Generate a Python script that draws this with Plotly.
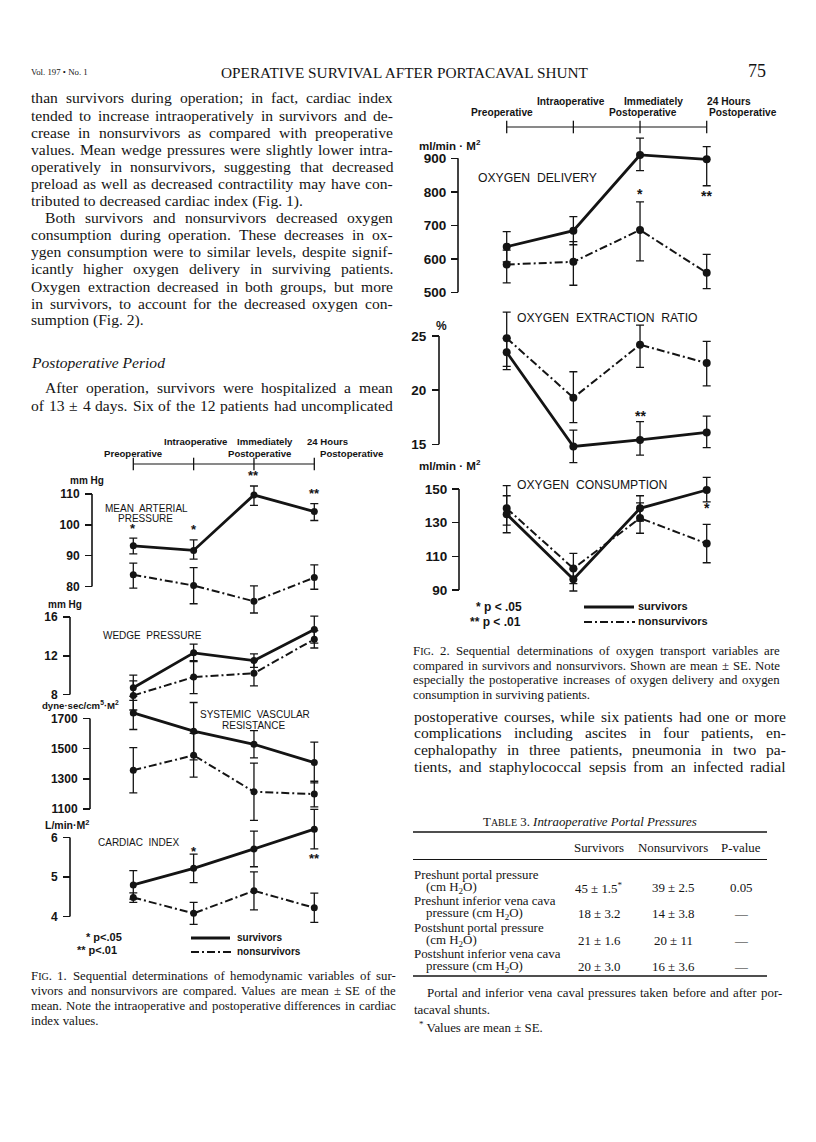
import re
import plotly.graph_objects as go

W, H = 816, 1142
SANS = "Liberation Sans, Arial, sans-serif"
SERIF = "Liberation Serif, Times New Roman, serif"
INK = "#141414"

# ------------------------------------------------------------------ data
stages = ["Preoperative", "Intraoperative", "Immediately Postoperative", "24 Hours Postoperative"]
stage_idx = list(range(len(stages)))

# Fig. 1 - hemodynamic variables (mean, +SE, -SE)
map_surv = [93.2, 91.7, 109.7, 104.3]
map_surv_up = [2.5, 3.4, 2.9, 2.6]
map_surv_dn = [2.6, 2.8, 3.4, 2.9]
map_non = [83.8, 80.3, 75.2, 82.9]
map_non_up = [3.8, 5.8, 5.0, 4.1]
map_non_dn = [4.3, 5.9, 3.8, 3.8]
map_ticks = [80, 90, 100, 110]

wedge_surv = [8.7, 12.3, 11.5, 14.7]
wedge_surv_up = [1.3, 0.9, 0.7, 1.4]
wedge_surv_dn = [1.3, 0.9, 0.7, 1.4]
wedge_non = [7.9, 9.8, 10.2, 13.7]
wedge_non_up = [1.5, 1.7, 1.3, 0.9]
wedge_non_dn = [1.5, 1.7, 1.3, 0.9]
wedge_ticks = [8, 12, 16]

svr_surv = [1737, 1616, 1529, 1408]
svr_surv_up = [110, 190, 90, 135]
svr_surv_dn = [110, 190, 90, 135]
svr_non = [1357, 1456, 1214, 1199]
svr_non_up = [150, 145, 190, 85]
svr_non_dn = [150, 145, 190, 85]
svr_ticks = [1100, 1300, 1500, 1700]

ci_surv = [4.80, 5.22, 5.71, 6.21]
ci_surv_up = [0.36, 0.36, 0.45, 0.50]
ci_surv_dn = [0.36, 0.36, 0.45, 0.50]
ci_non = [4.48, 4.08, 4.65, 4.22]
ci_non_up = [0.12, 0.28, 0.48, 0.37]
ci_non_dn = [0.12, 0.28, 0.48, 0.37]
ci_ticks = [4, 5, 6]

# Fig. 2 - oxygen transport variables
do2_surv = [636, 684, 910, 897]
do2_surv_up = [45, 42, 50, 38]
do2_surv_dn = [45, 42, 47, 79]
do2_non = [583, 591, 686, 558]
do2_non_up = [43, 60, 84, 55]
do2_non_dn = [55, 70, 92, 47]
do2_ticks = [500, 600, 700, 800, 900]

oer_surv = [23.5, 14.8, 15.4, 16.1]
oer_surv_up = [1.3, 1.5, 1.7, 1.5]
oer_surv_dn = [1.6, 1.5, 1.4, 1.4]
oer_non = [24.8, 19.3, 24.2, 22.5]
oer_non_up = [2.4, 2.4, 1.8, 2.0]
oer_non_dn = [2.6, 2.3, 2.1, 2.1]
oer_ticks = [15, 20, 25]

vo2_surv = [135.0, 96.4, 138.5, 149.4]
vo2_surv_up = [11, 6, 7.5, 7.5]
vo2_surv_dn = [11, 7, 7.5, 7]
vo2_non = [138.5, 102.8, 132.7, 117.6]
vo2_non_up = [13.5, 9, 9, 11.4]
vo2_non_dn = [10, 9, 9, 11.4]
vo2_ticks = [90, 110, 130, 150]

# significance marks: (stage index, mark, series, side)
sig_map = [(0, "*", "s", "above"), (1, "*", "s", "above"), (2, "**", "s", "above"), (3, "**", "s", "above")]
sig_ci = [(1, "*", "s", "above"), (3, "**", "s", "below")]
sig_do2 = [(2, "*", "n", "above"), (3, "**", "s", "below")]
sig_oer = [(2, "**", "s", "above")]
sig_vo2 = [(3, "*", "s", "below")]

# Table 3
tbl_cols = ["Survivors", "Nonsurvivors", "P-value"]
tbl_rows = [("Preshunt portal pressure", "(cm H<sub>2</sub>O)"),
            ("Preshunt inferior vena cava", "pressure (cm H<sub>2</sub>O)"),
            ("Postshunt portal pressure", "(cm H<sub>2</sub>O)"),
            ("Postshunt inferior vena cava", "pressure (cm H<sub>2</sub>O)")]
tbl_surv = ["45 ± 1.5<sup>*</sup>", "18 ± 3.2", "21 ± 1.6", "20 ± 3.0"]
tbl_non = ["39 ± 2.5", "14 ± 3.8", "20 ± 11", "16 ± 3.6"]
tbl_p = ["0.05", "—", "—", "—"]

left_par1 = [
    "than survivors during operation; in fact, cardiac index",
    "tended to increase intraoperatively in survivors and de-",
    "crease in nonsurvivors as compared with preoperative",
    "values. Mean wedge pressures were slightly lower intra-",
    "operatively in nonsurvivors, suggesting that decreased",
    "preload as well as decreased contractility may have con-",
    "tributed to decreased cardiac index (Fig. 1).",
]
left_par2 = [
    "Both survivors and nonsurvivors decreased oxygen",
    "consumption during operation. These decreases in ox-",
    "ygen consumption were to similar levels, despite signif-",
    "icantly higher oxygen delivery in surviving patients.",
    "Oxygen extraction decreased in both groups, but more",
    "in survivors, to account for the decreased oxygen con-",
    "sumption (Fig. 2).",
]
left_par3 = [
    "After operation, survivors were hospitalized a mean",
    "of 13 ± 4 days. Six of the 12 patients had uncomplicated",
]
right_text = [
    "postoperative courses, while six patients had one or more",
    "complications including ascites in four patients, en-",
    "cephalopathy in three patients, pneumonia in two pa-",
    "tients, and staphylococcal sepsis from an infected radial",
]
cap1 = [
    "FIG. 1. Sequential determinations of hemodynamic variables of sur-",
    "vivors and nonsurvivors are compared. Values are mean ± SE of the",
    "mean. Note the intraoperative and postoperative differences in cardiac",
    "index values.",
]
cap2 = [
    "FIG. 2. Sequential determinations of oxygen transport variables are",
    "compared in survivors and nonsurvivors. Shown are mean ± SE. Note",
    "especially the postoperative increases of oxygen delivery and oxygen",
    "consumption in surviving patients.",
]
foot = [
    "Portal and inferior vena caval pressures taken before and after por-",
    "tacaval shunts.",
]

# ------------------------------------------------------------------ helpers
fig = go.Figure()
axes = {}
annots = []
shapes = []
count = [0]

# Times-Roman advance widths (1/1000 em) used to justify the text columns
TW = {' ': 250, '(': 333, ')': 333, ',': 250, '-': 333, '.': 250, ';': 278, ':': 278, '±': 564,
      '•': 350, '—': 1000, "'": 333, '*': 500}
TW.update({d: 500 for d in "0123456789"})
TW.update(dict(zip("ABCDEFGHIJKLMNOPQRSTUVWXYZ",
                   [722, 667, 667, 722, 611, 556, 722, 722, 333, 389, 722, 611, 889, 722, 722, 556,
                    722, 667, 556, 611, 722, 722, 944, 722, 722, 611])))
TW.update(dict(zip("abcdefghijklmnopqrstuvwxyz",
                   [444, 500, 444, 500, 444, 333, 500, 500, 278, 278, 500, 278, 778, 500, 500, 500,
                    500, 333, 389, 278, 500, 500, 722, 500, 500, 444])))
SC = 10  # small-caps size


def px_x(p):
    return p / W


def px_y(p):
    return 1 - p / H


def text(x, y, s, size, family=SERIF, anchor="left", color=INK, weight="normal"):
    annots.append(dict(x=px_x(x), y=px_y(y), xref="paper", yref="paper", text=s, showarrow=False,
                       xanchor=anchor, yanchor="middle", borderpad=0,
                       font=dict(family=family, size=size, color=color, weight=weight)))


def render_word(w):
    if w == "FIG.":
        return f"F<span style='font-size:{SC}px'>IG</span>."
    return w


def word_width(w, size):
    if w == "FIG.":
        return (TW["F"] + TW["."]) / 1000 * size + (TW["I"] + TW["G"]) / 1000 * SC
    rest = re.sub(r"<[^>]+>", "", w)
    return sum(TW.get(c, 500) for c in rest) / 1000 * size


def justify(x0, x1, y, line, size, last=False):
    words = line.split(" ")
    if last or len(words) == 1:
        text(x0, y, " ".join(render_word(w) for w in words), size)
        return
    widths = [word_width(w, size) for w in words]
    gap = (x1 - x0 - sum(widths)) / (len(words) - 1)
    x = x0
    for w, wd in zip(words, widths):
        text(x, y, render_word(w), size)
        x += wd + gap


def add_axes(xdom, xcal, ydom, ycal, spine=None, ticks=None, tsize=12, standoff=3):
    count[0] += 1
    k = count[0]
    xn = "xaxis" if k == 1 else f"xaxis{k}"
    yn = "yaxis" if k == 1 else f"yaxis{k}"
    xr_ = "x" if k == 1 else f"x{k}"
    yr_ = "y" if k == 1 else f"y{k}"
    (xa, pa), (xb, pb) = xcal
    sx = (pb - pa) / (xb - xa)
    xrange = [xa + (xdom[0] - pa) / sx, xa + (xdom[1] - pa) / sx]
    (ya, qa), (yb, qb) = ycal
    sy = (qb - qa) / (yb - ya)
    yrange = [ya + (ydom[1] - qa) / sy, ya + (ydom[0] - qa) / sy]
    axes[xn] = dict(domain=[px_x(xdom[0]), px_x(xdom[1])], range=xrange, visible=False, anchor=yr_)
    yax = dict(domain=[px_y(ydom[1]), px_y(ydom[0])], range=yrange, showgrid=False, zeroline=False,
               showline=False, anchor=xr_)
    if ticks:
        yax.update(anchor="free", position=px_x(spine), tickmode="array", tickvals=ticks,
                   ticktext=[str(t) for t in ticks], ticks="outside", ticklen=7, tickwidth=1.5,
                   tickcolor=INK, tickfont=dict(family=SANS, size=tsize, color=INK, weight="bold"),
                   ticklabelstandoff=standoff)
        shapes.append(dict(type="line", xref="paper", yref=yr_, x0=px_x(spine), x1=px_x(spine),
                           y0=min(ticks), y1=max(ticks), line=dict(color=INK, width=1.6)))
    else:
        yax.update(visible=False)
    axes[yn] = yax
    return xr_, yr_


DASHDOT = "8px,3px,2px,3px"


def series(xr_, yr_, vals, up, dn, survivors, msize):
    fig.add_trace(go.Scatter(
        x=stage_idx, y=vals, xaxis=xr_, yaxis=yr_, mode="lines+markers",
        line=dict(color=INK, width=2.8 if survivors else 2.0, dash="solid" if survivors else DASHDOT),
        marker=dict(size=msize, color=INK),
        error_y=dict(type="data", symmetric=False, array=up, arrayminus=dn,
                     color=INK, thickness=1.3, width=4),
        cliponaxis=False, showlegend=False, hoverinfo="skip"))


def panel(xr_, yr_, s, su, sd, n, nu, nd, sigs, msize, sig_size, shift):
    series(xr_, yr_, n, nu, nd, False, msize)
    series(xr_, yr_, s, su, sd, True, msize)
    for i, mark, who, side in sigs:
        if who == "s":
            v, u, d = s[i], su[i], sd[i]
        else:
            v, u, d = n[i], nu[i], nd[i]
        y = v + u if side == "above" else v - d
        annots.append(dict(x=stage_idx[i], y=y, xref=xr_, yref=yr_, text=mark, showarrow=False,
                           xanchor="center", yanchor="middle",
                           yshift=shift[0] if side == "above" else shift[1],
                           font=dict(family=SANS, size=sig_size, color=INK, weight="bold")))


def header(xr_, yr_, labels, size):
    fig.add_trace(go.Scatter(
        x=stage_idx, y=[0.5] * len(stage_idx), xaxis=xr_, yaxis=yr_, mode="lines+markers",
        line=dict(color=INK, width=1.2), marker=dict(symbol="line-ns-open", size=9,
                                                      line=dict(color=INK, width=1.3)),
        cliponaxis=False, showlegend=False, hoverinfo="skip"))
    for i, s, dx, ypx in labels:
        annots.append(dict(x=stage_idx[i], y=px_y(ypx), xref=xr_, yref="paper", text=s, showarrow=False,
                           xanchor="center", yanchor="middle", xshift=dx,
                           font=dict(family=SANS, size=size, color=INK, weight="bold")))


# ------------------------------------------------------------------ Fig. 1
F1X = (20, 400)
F1CAL = ((0, 133.3), (3, 314.3))
xr, yr = add_axes(F1X, F1CAL, (454, 474), ((0, 474), (1, 454)))
header(xr, yr, [(0, "Preoperative", 0, 453), (1, "Intraoperative", 2, 442),
                (2, "Immediately", 11, 442), (2, "Postoperative", 6, 453),
                (3, "24 Hours", 13, 442), (3, "Postoperative", 37, 453)], 9.6)

xr, yr = add_axes(F1X, F1CAL, (468, 618), ((110, 494), (80, 586.5)), spine=92, ticks=map_ticks)
panel(xr, yr, map_surv, map_surv_up, map_surv_dn, map_non, map_non_up, map_non_dn, sig_map, 7, 13, (10, -9))
xr, yr = add_axes(F1X, F1CAL, (600, 712), ((16, 617), (8, 694.5)), spine=70, ticks=wedge_ticks)
panel(xr, yr, wedge_surv, wedge_surv_up, wedge_surv_dn, wedge_non, wedge_non_up, wedge_non_dn, [], 7, 13, (9, -9))
xr, yr = add_axes(F1X, F1CAL, (690, 835), ((1700, 718.5), (1100, 809)), spine=90, ticks=svr_ticks)
panel(xr, yr, svr_surv, svr_surv_up, svr_surv_dn, svr_non, svr_non_up, svr_non_dn, [], 7, 13, (9, -9))
xr, yr = add_axes(F1X, F1CAL, (800, 930), ((6, 837.5), (4, 916.5)), spine=70, ticks=ci_ticks)
panel(xr, yr, ci_surv, ci_surv_up, ci_surv_dn, ci_non, ci_non_up, ci_non_dn, sig_ci, 7, 13, (3, -10))

text(87, 481, "mm Hg", 10, SANS, "center", weight="bold")
text(65, 604, "mm Hg", 10, SANS, "center", weight="bold")
text(80, 705, "dyne·sec/cm<sup>5</sup>·M<sup>2</sup>", 9.6, SANS, "center", weight="bold")
text(67, 824.5, "L/min·M<sup>2</sup>", 10.5, SANS, "center", weight="bold")
text(104, 508, "MEAN\u00a0 ARTERIAL", 10, SANS)
text(117, 518.5, "PRESSURE", 10, SANS)
text(102, 635, "WEDGE\u00a0 PRESSURE", 10, SANS)
text(199, 714, "SYSTEMIC\u00a0 VASCULAR", 10, SANS)
text(221, 725, "RESISTANCE", 10, SANS)
text(97, 842, "CARDIAC\u00a0 INDEX", 10, SANS)

text(123, 937, "* p<.05", 11, SANS, "right", weight="bold")
text(118, 950, "** p<.01", 11, SANS, "right", weight="bold")
shapes.append(dict(type="line", xref="paper", yref="paper", x0=px_x(191), x1=px_x(230),
                   y0=px_y(938), y1=px_y(938), line=dict(color=INK, width=2.8)))
shapes.append(dict(type="line", xref="paper", yref="paper", x0=px_x(191), x1=px_x(231),
                   y0=px_y(952), y1=px_y(952), line=dict(color=INK, width=2, dash=DASHDOT)))
text(236, 937, "survivors", 10, SANS, weight="bold")
text(236, 951, "nonsurvivors", 10, SANS, weight="bold")

# ------------------------------------------------------------------ Fig. 2
F2X = (410, 790)
F2CAL = ((0, 506.7), (3, 706.7))
xr, yr = add_axes(F2X, F2CAL, (117, 137), ((0, 137), (1, 117)))
header(xr, yr, [(0, "Preoperative", -5, 113), (1, "Intraoperative", -2, 101.5),
                (2, "Immediately", 13, 101.5), (2, "Postoperative", 3, 113),
                (3, "24 Hours", 22, 101.5), (3, "Postoperative", 36, 113)], 10.2)

xr, yr = add_axes(F2X, F2CAL, (130, 300), ((900, 158.3), (500, 292.3)), spine=458, ticks=do2_ticks,
                  tsize=13.5, standoff=2)
panel(xr, yr, do2_surv, do2_surv_up, do2_surv_dn, do2_non, do2_non_up, do2_non_dn, sig_do2, 8, 14, (8, -10))
xr, yr = add_axes(F2X, F2CAL, (305, 470), ((25, 336), (15, 444.3)), spine=439, ticks=oer_ticks,
                  tsize=13.5, standoff=3)
panel(xr, yr, oer_surv, oer_surv_up, oer_surv_dn, oer_non, oer_non_up, oer_non_dn, sig_oer, 8, 14, (6, -10))
xr, yr = add_axes(F2X, F2CAL, (470, 598), ((150, 489), (90, 590)), spine=459, ticks=vo2_ticks,
                  tsize=13.5, standoff=2)
panel(xr, yr, vo2_surv, vo2_surv_up, vo2_surv_dn, vo2_non, vo2_non_up, vo2_non_dn, sig_vo2, 8, 14, (8, -6))

text(450, 145, "ml/min · M<sup>2</sup>", 11.5, SANS, "center", weight="bold")
text(442, 326, "%", 12, SANS, "center", weight="bold")
text(450, 465, "ml/min · M<sup>2</sup>", 11.5, SANS, "center", weight="bold")
text(477, 178, "OXYGEN\u00a0 DELIVERY", 12.2, SANS)
text(516, 318, "OXYGEN\u00a0 EXTRACTION\u00a0 RATIO", 12.2, SANS)
text(516, 485, "OXYGEN\u00a0 CONSUMPTION", 12.2, SANS)

text(523, 607, "* p < .05", 12, SANS, "right", weight="bold")
text(522, 622, "** p < .01", 12, SANS, "right", weight="bold")
shapes.append(dict(type="line", xref="paper", yref="paper", x0=px_x(584), x1=px_x(634),
                   y0=px_y(607), y1=px_y(607), line=dict(color=INK, width=2.8)))
shapes.append(dict(type="line", xref="paper", yref="paper", x0=px_x(584), x1=px_x(635),
                   y0=px_y(622), y1=px_y(622), line=dict(color=INK, width=2, dash=DASHDOT)))
text(637, 606, "survivors", 11, SANS, weight="bold")
text(637, 621, "nonsurvivors", 11, SANS, weight="bold")

# ------------------------------------------------------------------ page text
BODY = 15.6
CAP = 12.8
TAB = 12.9
text(30, 72, "Vol. 197 • No. 1", 8.8)
text(405, 72, "OPERATIVE SURVIVAL AFTER PORTACAVAL SHUNT", 15.3, SERIF, "center")
text(757, 71, "75", 18, SERIF, "center")

LSTEP = 17.1
y = 98
for i, line in enumerate(left_par1):
    justify(30, 392, y, line, BODY, last=(i == len(left_par1) - 1))
    y += LSTEP
for i, line in enumerate(left_par2):
    justify(44 if i == 0 else 30, 392, y, line, BODY, last=(i == len(left_par2) - 1))
    y += LSTEP
text(30, 362, "<i>Postoperative Period</i>", BODY)
for i, line in enumerate(left_par3):
    justify(44 if i == 0 else 30, 392, 388 + i * 17, line, BODY)
for i, line in enumerate(right_text):
    justify(413, 785, 716 + i * 16.8, line, BODY)

for i, line in enumerate(cap1):
    justify(30, 395, 976 + i * 15, line, CAP, last=(i == len(cap1) - 1))
for i, line in enumerate(cap2):
    justify(412, 779, 651 + i * 14.6, line, CAP, last=(i == len(cap2) - 1))

# ------------------------------------------------------------------ Table 3
text(590, 822, "T<span style='font-size:10px'>ABLE</span> 3. <i>Intraoperative Portal Pressures</i>", TAB, SERIF, "center")
for yy, wdt in [(832, 1.6), (859.5, 1.0), (976, 1.6)]:
    shapes.append(dict(type="line", xref="paper", yref="paper", x0=px_x(413), x1=px_x(767),
                       y0=px_y(yy), y1=px_y(yy), line=dict(color=INK, width=wdt)))
col_x = [599, 673, 741]
for cx, c in zip(col_x, tbl_cols):
    text(cx, 848, c, TAB, SERIF, "center")
for r, (l1, l2) in enumerate(tbl_rows):
    y1 = 874.5 + r * 26.5
    text(413, y1, l1, TAB)
    text(425, y1 + 13.2, l2, TAB)
    text(col_x[0], y1 + 13.2, tbl_surv[r], TAB, SERIF, "center")
    text(col_x[1], y1 + 13.2, tbl_non[r], TAB, SERIF, "center")
    text(col_x[2], y1 + 13.2, tbl_p[r], TAB, SERIF, "center")
justify(426, 781, 993, foot[0], TAB)
text(413, 1010, foot[1], TAB)
text(418, 1027, "<sup>*</sup> Values are mean ± SE.", TAB)

fig.update_layout(width=W, height=H, margin=dict(l=0, r=0, t=0, b=0),
                  paper_bgcolor="white", plot_bgcolor="rgba(0,0,0,0)", showlegend=False,
                  annotations=annots, shapes=shapes, **axes)
fig.write_html("out.html", config={"displayModeBar": False, "staticPlot": True},
               post_script="document.body.style.margin='0px';")
